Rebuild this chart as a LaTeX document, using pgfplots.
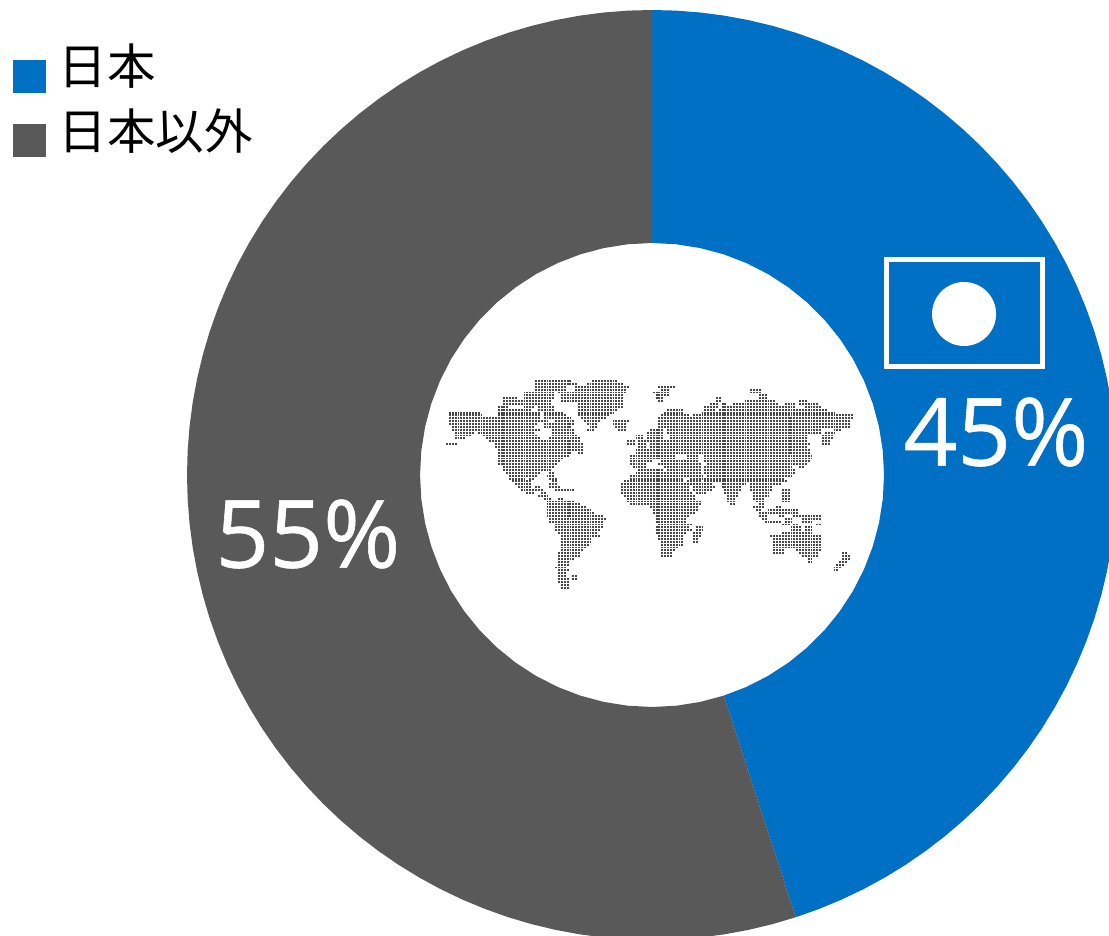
\documentclass[border=0pt]{standalone}
\usepackage{pgfplots}
\usepackage{pgfplotstable}
\usepackage{fontspec}
\pgfplotsset{compat=1.18}
\setmainfont{Open Sans}
\newfontfamily\cjk{Noto Sans CJK JP}
\newfontfamily\pct[FakeBold=0.6]{Open Sans}
\definecolor{jpblue}{HTML}{0070C5}
\definecolor{restgray}{HTML}{595959}
\definecolor{mapdot}{HTML}{484848}

% Dot-matrix world map: grid row r, then first and last pixel column of each run of dots
\pgfplotstableread{
r a b
0 537 572
0 592 615
1 537 578
1 588 622
2 537 565
2 575 628
2 660 675
3 537 565
3 575 625
3 663 670
3 750 758
4 525 555
4 560 625
4 654 658
4 660 668
4 750 758
5 525 553
5 561 622
5 657 662
5 666 668
5 760 765
6 505 517
6 525 553
6 561 622
6 657 662
6 717 720
6 760 765
7 503 517
7 523 553
7 561 622
7 658 661
7 717 720
7 745 775
7 800 805
8 503 520
8 523 553
8 580 622
8 710 717
8 722 724
8 735 743
8 745 778
8 785 793
8 800 818
9 500 510
9 525 535
9 540 553
9 580 622
9 704 716
9 723 795
9 805 818
10 498 530
10 540 553
10 580 618
10 667 680
10 704 712
10 720 827
11 449 478
11 498 538
11 544 560
11 580 615
11 665 682
11 703 835
12 449 480
12 498 538
12 544 565
12 580 610
12 662 688
12 695 852
13 450 538
13 544 549
13 552 570
13 583 605
13 660 852
14 450 538
14 541 546
14 556 573
14 585 598
14 613 628
14 660 850
15 451 538
15 545 573
15 587 595
15 614 626
15 660 850
16 453 534
16 546 573
16 590 595
16 615 625
16 660 848
17 453 538
17 552 573
17 589 595
17 620 625
17 650 661
17 669 822
17 835 840
18 455 472
18 480 535
18 553 573
18 648 661
18 669 820
18 827 835
19 456 470
19 483 535
19 553 575
19 635 640
19 648 661
19 672 808
19 822 832
20 456 466
20 487 540
20 550 578
20 637 642
20 648 662
20 672 806
20 822 830
21 490 580
21 629 634
21 638 643
21 648 806
21 822 829
22 446 450
22 452 454
22 495 580
22 629 634
22 638 644
22 650 808
22 823 829
23 497 579
23 580 584
23 640 645
23 652 808
24 498 577
24 580 584
24 635 645
24 648 808
25 498 570
25 580 584
25 635 808
26 498 568
26 632 675
26 689 697
26 705 810
27 498 562
27 632 675
27 689 697
27 705 812
28 499 560
28 632 646
28 648 650
28 662 697
28 705 808
29 500 558
29 632 646
29 660 700
29 707 788
29 792 805
30 503 553
30 634 646
30 665 700
30 705 790
30 800 804
31 505 550
31 640 662
31 667 700
31 705 795
32 508 540
32 550 553
32 635 680
32 685 700
32 705 795
33 510 535
33 548 553
33 630 682
33 686 702
33 707 790
34 510 525
34 530 532
34 550 555
34 630 683
34 692 785
35 512 530
35 552 555
35 625 682
35 688 700
35 706 785
36 517 532
36 550 555
36 623 688
36 692 712
36 722 745
36 750 780
37 520 532
37 536 540
37 550 560
37 623 690
37 693 712
37 722 740
37 750 770
38 522 535
38 540 542
38 555 572
38 623 688
38 695 712
38 724 738
38 750 770
38 782 787
39 528 535
39 541 545
39 623 692
39 698 708
39 726 737
39 753 768
39 782 787
40 540 548
40 625 693
40 727 736
40 755 768
40 783 788
41 545 550
41 558 562
41 628 694
41 728 735
41 755 765
41 783 790
42 548 575
42 628 700
42 729 735
42 757 763
42 783 790
43 548 580
43 630 698
43 731 733
43 760 762
44 548 584
44 652 698
44 753 762
44 777 780
45 548 590
45 653 696
45 757 760
45 768 797
46 548 595
46 654 695
46 760 797
47 548 603
47 657 690
47 760 767
47 781 783
47 795 800
47 803 820
48 549 603
48 657 687
48 763 767
48 785 790
48 803 820
49 550 602
49 657 687
49 767 780
49 785 790
49 803 813
50 555 600
50 658 690
50 782 787
50 793 795
50 816 818
51 555 600
51 657 690
51 697 703
51 790 800
51 807 812
52 556 599
52 657 691
52 696 703
52 790 800
52 807 812
53 560 598
53 657 685
53 695 701
53 782 812
54 561 597
54 660 684
54 695 700
54 772 820
55 561 590
55 660 682
55 694 698
55 773 820
56 561 589
56 661 682
56 694 697
56 773 820
57 561 588
57 661 680
57 773 820
58 561 585
58 663 678
58 774 820
59 561 582
59 663 675
59 775 783
59 796 820
60 558 578
60 663 673
60 775 783
60 800 818
60 843 845
61 558 577
61 663 672
61 803 817
61 843 848
62 558 572
62 810 813
62 842 848
63 558 568
63 810 813
63 840 846
64 558 566
64 838 843
65 557 566
65 835 842
66 558 568
66 835 838
67 558 564
68 558 565
68 573 575
69 558 562
69 564 566
69 573 575
70 560 568
71 563 570
72 563 570
}\worldmap

\begin{document}
\begin{tikzpicture}
\path[use as bounding box] (0pt,0pt) rectangle (1109pt,935pt);
\begin{axis}[
  anchor=south west, at={(0pt,0pt)},
  width=1109pt, height=935pt, scale only axis,
  xmin=-652, xmax=457, ymin=-460, ymax=475,
  hide axis,
  legend cell align=left,
  legend style={at={(axis description cs:0.0117,0.955)}, anchor=north west,
    draw=none, fill=none, inner sep=0pt, outer sep=0pt,
    font=\cjk\fontsize{48.5}{52}\selectfont,
    row sep=14pt, column sep=11pt,
    nodes={inner sep=2pt}},
  legend image code/.code={\fill[#1] (0pt,-27.5pt) rectangle (33pt,5.5pt);},
]
% Share of Japan, 45 percent, clockwise from the top
\addplot[fill=jpblue, draw=none, data cs=polar] coordinates {
 (90,465)(87,465)(84,465)(81,465)(78,465)(75,465)(72,465)(69,465)(66,465)(63,465)(60,465)
 (57,465)(54,465)(51,465)(48,465)(45,465)(42,465)(39,465)(36,465)(33,465)(30,465)
 (27,465)(24,465)(21,465)(18,465)(15,465)(12,465)(9,465)(6,465)(3,465)(0,465)
 (-3,465)(-6,465)(-9,465)(-12,465)(-15,465)(-18,465)(-21,465)(-24,465)(-27,465)(-30,465)
 (-33,465)(-36,465)(-39,465)(-42,465)(-45,465)(-48,465)(-51,465)(-54,465)(-57,465)(-60,465)
 (-63,465)(-66,465)(-69,465)(-72,465)
 (-72,232)(-66,232)(-60,232)(-54,232)(-48,232)(-42,232)(-36,232)(-30,232)(-24,232)(-18,232)
 (-12,232)(-6,232)(0,232)(6,232)(12,232)(18,232)(24,232)(30,232)(36,232)(42,232)(48,232)
 (54,232)(60,232)(66,232)(72,232)(78,232)(84,232)(90,232)
} -- cycle;
\addlegendentry{日本}
% Share of the rest, 55 percent
\addplot[fill=restgray, draw=none, data cs=polar] coordinates {
 (-72,465)(-75,465)(-78,465)(-81,465)(-84,465)(-87,465)(-90,465)(-93,465)(-96,465)(-99,465)
 (-102,465)(-105,465)(-108,465)(-111,465)(-114,465)(-117,465)(-120,465)(-123,465)(-126,465)
 (-129,465)(-132,465)(-135,465)(-138,465)(-141,465)(-144,465)(-147,465)(-150,465)(-153,465)
 (-156,465)(-159,465)(-162,465)(-165,465)(-168,465)(-171,465)(-174,465)(-177,465)(-180,465)
 (-183,465)(-186,465)(-189,465)(-192,465)(-195,465)(-198,465)(-201,465)(-204,465)(-207,465)
 (-210,465)(-213,465)(-216,465)(-219,465)(-222,465)(-225,465)(-228,465)(-231,465)(-234,465)
 (-237,465)(-240,465)(-243,465)(-246,465)(-249,465)(-252,465)(-255,465)(-258,465)(-261,465)
 (-264,465)(-267,465)(-270,465)
 (-270,232)(-264,232)(-258,232)(-252,232)(-246,232)(-240,232)(-234,232)(-228,232)(-222,232)
 (-216,232)(-210,232)(-204,232)(-198,232)(-192,232)(-186,232)(-180,232)(-174,232)(-168,232)
 (-162,232)(-156,232)(-150,232)(-144,232)(-138,232)(-132,232)(-126,232)(-120,232)(-114,232)
 (-108,232)(-102,232)(-96,232)(-90,232)(-84,232)(-78,232)(-72,232)
} -- cycle;
\addlegendentry{日本以外}
% World map: runs of dots snapped to the dot grid
\addplot[forget plot, no marks, draw=mapdot,
  quiver={u={round((\thisrow{b}-\thisrow{a})/2.87)*2.87+1.9}, v=0,
    every arrow/.style={draw=mapdot, line width=1.9pt, line cap=butt,
      dash pattern=on 1.9pt off 0.97pt}}]
  table[x expr={round((\thisrow{a}-447)/2.87)*2.87-205-0.95}, y expr={94-2.87*\thisrow{r}}] {\worldmap};
% Flag of Japan
\draw[white, line width=5pt] (axis cs:234,215) rectangle (axis cs:390,108);
\fill[white] (axis cs:312,161) circle[radius=32];
% Percentages
\node[white, font=\pct\fontsize{94}{94}\selectfont, inner sep=0pt] at (axis cs:344,43) {45\%};
\node[white, font=\pct\fontsize{94}{94}\selectfont, inner sep=0pt] at (axis cs:-344,-59) {55\%};
\end{axis}
\end{tikzpicture}
\end{document}
